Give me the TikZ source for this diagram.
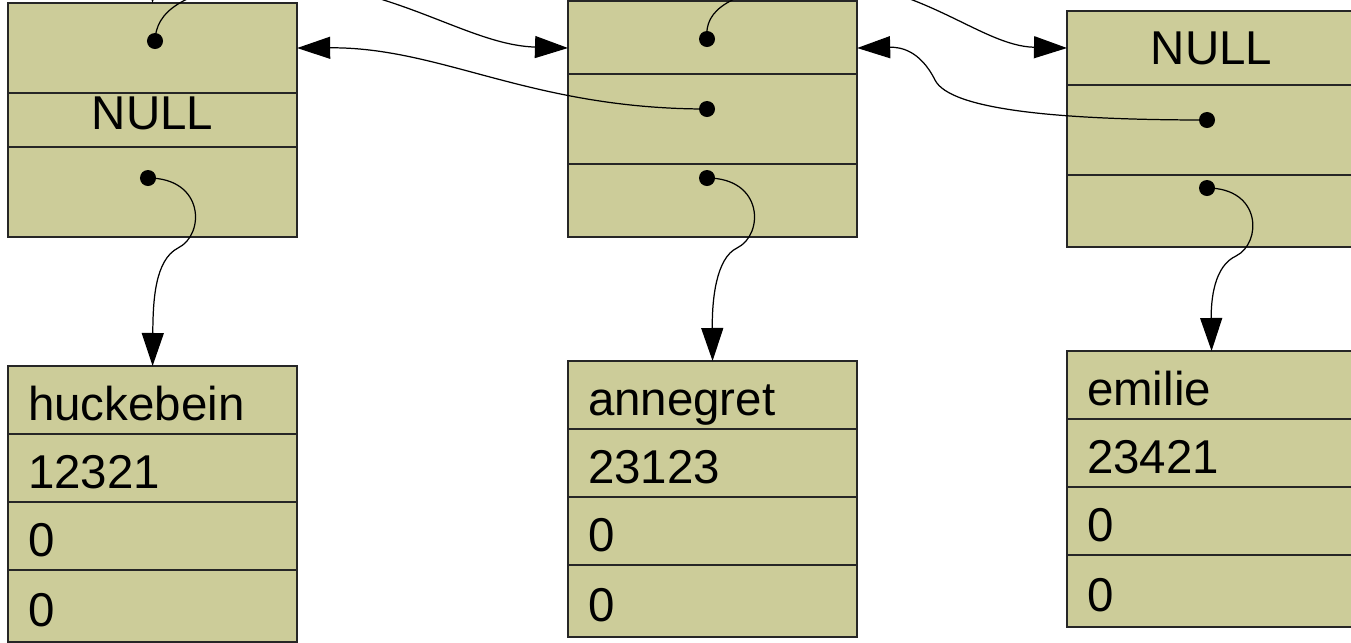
\documentclass[tikz,border=0pt]{standalone}
\usepackage{fontspec}
\setmainfont{Liberation Sans}
\usepackage{xcolor}
\definecolor{cellfill}{HTML}{CCCC99}
\usetikzlibrary{positioning,arrows.meta}

\begin{document}
\begin{tikzpicture}[
  x=0.01cm, y=-0.01cm,
  cell/.style={rectangle, draw=black!85, fill=cellfill, line width=0.4pt,
    minimum width=2.89cm, inner xsep=0pt, inner ysep=0pt, outer sep=0pt,
    font=\fontsize{13.5}{15}\selectfont, text height=9.6pt, text depth=0pt},
  data/.style={cell, inner xsep=0.2cm, text width=2.49cm, align=left,
    minimum height=0.68cm, text height=11.8pt},
  dot/.style={circle, fill=black, inner sep=0pt, minimum size=0.16cm},
  ptr/.style={-{Triangle[length=0.33cm,width=0.22cm]}, line width=0.35pt}
  ]
  \useasboundingbox (0,0) rectangle (1351,642);
  \clip (0,0) rectangle (1351,642);

  % list elements
  \node[cell, anchor=north west, minimum height=0.9cm] (A1) at (8,3) {};
  \node[cell, below=0pt of A1, minimum height=0.54cm, text depth=4.2pt] (A2) {NULL};
  \node[cell, below=0pt of A2, minimum height=0.9cm] (A3) {};

  \node[cell, anchor=north west, minimum height=0.73cm] (B1) at (568,1) {};
  \node[cell, below=0pt of B1, minimum height=0.9cm] (B2) {};
  \node[cell, below=0pt of B2, minimum height=0.73cm] (B3) {};

  \node[cell, anchor=north west, minimum height=0.74cm] (C1) at (1067,11) {NULL};
  \node[cell, below=0pt of C1, minimum height=0.9cm] (C2) {};
  \node[cell, below=0pt of C2, minimum height=0.72cm] (C3) {};

  % data records
  \node[data, anchor=north west] (D1) at (8,366) {huckebein};
  \node[data, below=0pt of D1] (D2) {12321};
  \node[data, below=0pt of D2] (D3) {0};
  \node[data, below=0pt of D3, minimum height=0.72cm] (D4) {0};

  \node[data, anchor=north west] (E1) at (568,361) {annegret};
  \node[data, below=0pt of E1] (E2) {23123};
  \node[data, below=0pt of E2] (E3) {0};
  \node[data, below=0pt of E3, minimum height=0.72cm] (E4) {0};

  \node[data, anchor=north west] (F1) at (1067,351) {emilie};
  \node[data, below=0pt of F1] (F2) {23421};
  \node[data, below=0pt of F2] (F3) {0};
  \node[data, below=0pt of F3, minimum height=0.72cm] (F4) {0};

  % pointer fields
  \node[dot] (a1) at (155,41) {};
  \node[dot] (a3) at (148,178) {};
  \node[dot] (b1) at (707,39) {};
  \node[dot] (b2) at (707,109) {};
  \node[dot] (b3) at (707,178) {};
  \node[dot] (c2) at (1207,120) {};
  \node[dot] (c3) at (1207,188) {};

  \coordinate (head) at (152,-60);
  \draw[ptr] (head) -- (A1.north);

  % next
  \draw[ptr] (a1.center) .. controls (156,12) and (180,-8) .. (260,-20)
    .. controls (390,-20) and (465,45) .. (B1.west |- A1.east);
  \draw[ptr] (b1.center) .. controls (704,10) and (728,-8) .. (810,-20)
    .. controls (920,-20) and (980,46) .. (C1.west);

  % prev
  \draw[ptr] (b2.center) .. controls (530,109) and (442,47) .. (A1.east);
  \draw[ptr] (c2.center) .. controls (1060,120) and (950,110) .. (935,80)
    .. controls (920,50) and (900,47) .. (B1.east |- A1.east);

  % data
  \draw[ptr] (a3.center) .. controls (205,178) and (205,235) .. (178,248)
    .. controls (155,260) and (153,300) .. (D1.north);
  \draw[ptr] (b3.center) .. controls (764,178) and (764,235) .. (737,248)
    .. controls (716,258) and (712,300) .. (E1.north);
  \draw[ptr] (c3.center) .. controls (1262,188) and (1262,243) .. (1236,256)
    .. controls (1214,266) and (1211,300) .. (F1.north);
\end{tikzpicture}
\end{document}
